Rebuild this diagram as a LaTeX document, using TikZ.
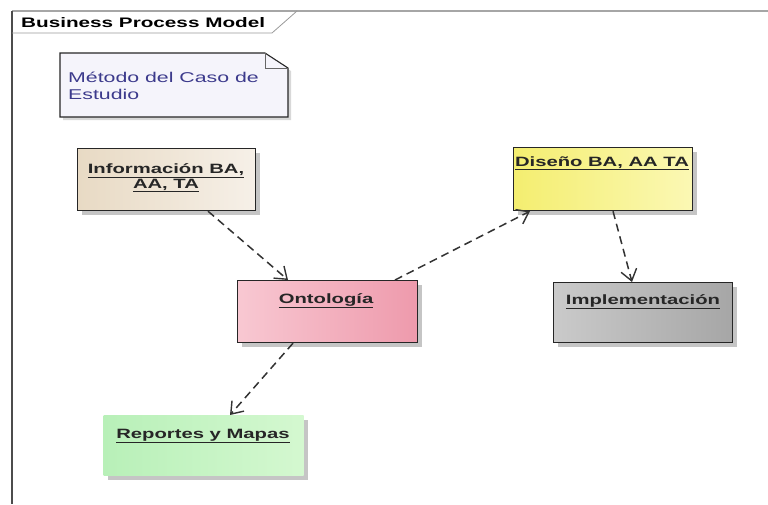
\documentclass[tikz,border=0pt]{standalone}
\usepackage{fontspec}
\setmainfont{Liberation Sans}
\newfontfamily\umlfont[FakeStretch=1.5]{Liberation Sans}
\usetikzlibrary{shadows,arrows.meta,calc}
\definecolor{notefill}{HTML}{F5F4FB}
\definecolor{notetext}{HTML}{3C3A8C}
\definecolor{linec}{HTML}{333333}
\definecolor{infoL}{HTML}{E8DAC4}
\definecolor{infoR}{HTML}{F6F0E8}
\definecolor{disL}{HTML}{F4EE70}
\definecolor{disR}{HTML}{FBF8B4}
\definecolor{ontL}{HTML}{F8C8D2}
\definecolor{ontR}{HTML}{EE9AAC}
\definecolor{impL}{HTML}{CACACA}
\definecolor{impR}{HTML}{A6A6A6}
\definecolor{repL}{HTML}{B8F0B8}
\definecolor{repR}{HTML}{D4F8D0}
\begin{document}
\begin{tikzpicture}[x=1pt,y=-1pt,
  box/.style={draw=black!85, line width=1.2pt, anchor=north west, inner sep=0pt,
    drop shadow={shadow xshift=4pt, shadow yshift=-4pt, fill=black!45, opacity=0.5}},
  lbl/.style={font=\umlfont\bfseries\fontsize{13.5}{15.5}\selectfont, text=black!85, anchor=base, inner sep=0pt, align=center},
  dep/.style={draw=linec, line width=1.5pt, dash pattern=on 8pt off 5pt,
    -{Straight Barb[length=11pt,width=16pt,line width=1.4pt]}}
]
\useasboundingbox (0,0) rectangle (768,504);
% frame
\draw[black!35, line width=2pt] (12,11) -- (768,11);
\draw[black!70, line width=1.6pt] (12,11) -- (12,504);
\draw[black!40, line width=0.8pt] (12,33) -- (272,33) -- (297,11);
\node[font=\umlfont\bfseries\fontsize{13.8}{15}\selectfont, anchor=base west, inner sep=0pt] (frameT) at (21,27) {Business Process Model};
% note
\filldraw[fill=notefill, draw=black!85, line width=1.1pt, drop shadow={shadow xshift=3pt, shadow yshift=-3pt, fill=black!30, opacity=0.5}]
  (60,53) -- (265,53) -- (288,68) -- (288,117) -- (60,117) -- cycle;
\draw[black!60, line width=0.8pt] (265,53) -- (265,68) -- (288,68);
\node[font=\umlfont\fontsize{14.2}{17}\selectfont, text=notetext, anchor=north west, align=left, inner sep=0pt] (noteT) at (68,72) {Método del Caso de\\Estudio};
% boxes
\node[box, minimum width=178pt, minimum height=62pt, left color=infoL, right color=infoR] (info) at (77,148) {};
\node[box, minimum width=179pt, minimum height=63pt, left color=disL, right color=disR] (dis) at (513,147) {};
\node[box, minimum width=180pt, minimum height=62pt, left color=ontL, right color=ontR] (ont) at (237,280) {};
\node[box, minimum width=179pt, minimum height=60pt, left color=impL, right color=impR] (imp) at (553,282) {};
\node[box, draw=none, minimum width=200pt, minimum height=60pt, left color=repL, right color=repR] (rep) at (103,415) {};
% labels
\node[lbl] (infoT) at (166,188) {\underline{Información BA,}\\[-1pt]\underline{AA, TA}};
\node[lbl] (disT) at (602,166) {\underline{Diseño BA, AA TA}};
\node[lbl] (ontT) at (326,303) {\underline{Ontología}};
\node[lbl] (impT) at (643,304) {\underline{Implementación}};
\node[lbl] (repT) at (203,438) {\underline{Reportes y Mapas}};
% connectors
\draw[dep] ([xshift=131pt]info.south west) -- ([xshift=51pt]ont.north west);
\draw[dep] ([xshift=158pt]ont.north west) -- ([xshift=17pt]dis.south west);
\draw[dep] ([xshift=100pt]dis.south west) -- ([xshift=79pt]imp.north west);
\draw[dep] ([xshift=56pt]ont.south west) -- ([xshift=127pt]rep.north west);
\end{tikzpicture}
\end{document}
